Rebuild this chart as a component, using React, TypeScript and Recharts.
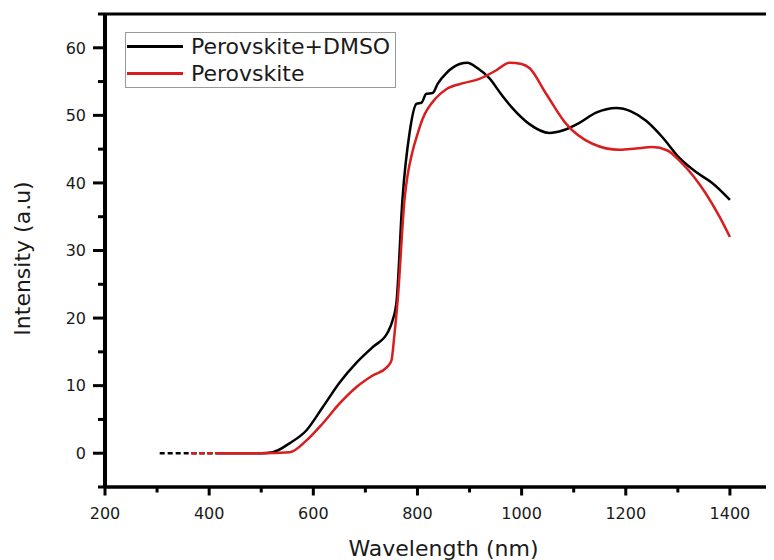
import React from 'react';
import { LineChart, Line, XAxis, YAxis, Legend, ReferenceLine } from 'recharts';

// Perovskite+DMSO (black)
const dmsoWavelength = [415, 450, 500, 522, 555, 587, 618, 651, 683, 714, 743, 752, 760, 771, 785, 798, 808, 817, 829, 839, 856, 881, 896, 915, 938, 960, 982, 1015, 1053, 1080, 1111, 1143, 1182, 1210, 1239, 1270, 1303, 1335, 1366, 1400];
const dmsoIntensity = [0, 0, 0, 0.15, 1.5, 3.4, 6.8, 10.5, 13.4, 15.7, 17.9, 19.6, 22.6, 37.4, 47.5, 51.7, 51.9, 53.2, 53.3, 54.7, 56.3, 57.6, 57.8, 57.0, 55.5, 53.2, 51.1, 48.7, 47.4, 47.8, 48.9, 50.4, 51.1, 50.6, 49.2, 46.8, 43.7, 41.6, 40.0, 37.5];

// Perovskite (red)
const pvkWavelength = [415, 450, 500, 555, 587, 618, 651, 683, 714, 741, 750, 756, 762, 775, 791, 798, 810, 836, 856, 890, 919, 950, 977, 1000, 1015, 1047, 1086, 1136, 1188, 1220, 1251, 1280, 1303, 1330, 1354, 1380, 1400];
const pvkIntensity = [0, 0, 0, 0.15, 1.9, 4.4, 7.4, 9.8, 11.5, 12.7, 13.7, 17.7, 22.6, 37.4, 44.8, 46.7, 49.5, 52.6, 53.9, 54.8, 55.4, 56.6, 57.8, 57.6, 57.0, 53.2, 48.7, 45.8, 44.9, 45.1, 45.3, 44.8, 43.3, 41.0, 38.4, 35.0, 32.0];

// sparse dashed start of each trace
const dmsoTailWavelength = [305, 415];
const pvkTailWavelength = [365, 415];

const xMajorTicks = [200, 400, 600, 800, 1000, 1200, 1400];
const xMinorTicks = [300, 500, 700, 900, 1100, 1300, 1500];
const yMajorTicks = [0, 10, 20, 30, 40, 50, 60];
const yMinorTicks = [-5, 5, 15, 25, 35, 45, 55, 65];

const zip = (xs: number[], ys: number[]) => xs.map((x, i) => ({ x, y: ys[i] }));
const dmsoData = zip(dmsoWavelength, dmsoIntensity);
const pvkData = zip(pvkWavelength, pvkIntensity);
const dmsoTail = dmsoTailWavelength.map((x) => ({ x, y: 0 }));
const pvkTail = pvkTailWavelength.map((x) => ({ x, y: 0 }));

const RED = '#d81e1e';
const FONT = '"DejaVu Sans", sans-serif';
const TEXT = '#1a1a1a';

const legendItems = [
  { name: 'Perovskite+DMSO', color: '#000' },
  { name: 'Perovskite', color: RED },
];

function LegendBox() {
  return (
    <div
      style={{
        border: '1px solid #999',
        background: '#fff',
        padding: '0 5px 0 1px',
        fontFamily: FONT,
        fontSize: 22,
        lineHeight: '27px',
        color: TEXT,
      }}
    >
      {legendItems.map((it) => (
        <div key={it.name} style={{ display: 'flex', alignItems: 'center' }}>
          <span style={{ display: 'inline-block', width: 56, height: 2.5, background: it.color, marginRight: 8 }} />
          {it.name}
        </div>
      ))}
    </div>
  );
}

// bottom ticks: long + label for majors, short for minors
function XTick(props: any) {
  const { x, y, payload } = props;
  const major = xMajorTicks.includes(payload.value);
  return (
    <g>
      <line x1={x} x2={x} y1={y} y2={y + (major ? 8.5 : 5.5)} stroke="#000" strokeWidth={3} />
      {major && (
        <text x={x} y={y + 32} textAnchor="middle" fill={TEXT} fontSize={16} fontFamily={FONT}>
          {payload.value}
        </text>
      )}
    </g>
  );
}

function YTick(props: any) {
  const { x, y, payload } = props;
  const major = yMajorTicks.includes(payload.value);
  return (
    <g>
      <line x1={x} x2={x - (major ? 12 : 7)} y1={y} y2={y} stroke="#000" strokeWidth={3} />
      {major && (
        <text x={x - 19} y={y} dy="0.36em" textAnchor="end" fill={TEXT} fontSize={16} fontFamily={FONT}>
          {payload.value}
        </text>
      )}
    </g>
  );
}

export default function App() {
  return (
    <div style={{ width: 766, height: 552, overflow: 'hidden' }}>
      <LineChart width={800} height={552} margin={{ top: 6, right: 26, bottom: 23, left: 37 }}>
        <XAxis
          dataKey="x"
          type="number"
          domain={[200, 1500]}
          ticks={[...xMajorTicks, ...xMinorTicks]}
          interval={0}
          allowDataOverflow
          tickSize={0}
          tickMargin={0}
          tickLine={false}
          axisLine={{ stroke: '#000', strokeWidth: 3.5 }}
          tick={<XTick />}
          height={50}
          label={{
            content: (p: any) => (
              <text x={p.viewBox.x + p.viewBox.width / 2} y={p.viewBox.y + 69} textAnchor="middle" fill={TEXT} fontSize={22} fontFamily={FONT}>
                Wavelength (nm)
              </text>
            ),
          }}
        />
        <YAxis
          type="number"
          domain={[-5, 65]}
          ticks={[...yMajorTicks, ...yMinorTicks]}
          interval={0}
          allowDataOverflow
          tickSize={0}
          tickMargin={0}
          tickLine={false}
          axisLine={{ stroke: '#000', strokeWidth: 4 }}
          tick={<YTick />}
          width={60}
          label={{
            content: (p: any) => {
              const cy = p.viewBox.y + p.viewBox.height / 2 + 8;
              return (
                <text x={14} y={cy} dy="0.35em" transform={`rotate(-90, 14, ${cy})`} textAnchor="middle" fill={TEXT} fontSize={22} fontFamily={FONT}>
                  Intensity (a.u)
                </text>
              );
            },
          }}
        />
        <ReferenceLine y={65} stroke="#000" strokeWidth={3} ifOverflow="extendDomain" />
        <Line data={dmsoTail} dataKey="y" stroke="#000" strokeWidth={2.5} strokeDasharray="5 3" dot={false} isAnimationActive={false} legendType="none" />
        <Line data={pvkTail} dataKey="y" stroke={RED} strokeWidth={2.5} strokeDasharray="5 3" dot={false} isAnimationActive={false} legendType="none" />
        <Line data={dmsoData} dataKey="y" name="Perovskite+DMSO" type="monotone" stroke="#000" strokeWidth={2.5} dot={false} isAnimationActive={false} />
        <Line data={pvkData} dataKey="y" name="Perovskite" type="monotone" stroke={RED} strokeWidth={2.5} dot={false} isAnimationActive={false} />
        <Legend
          layout="horizontal"
          verticalAlign="middle"
          align="center"
          content={<LegendBox />}
          wrapperStyle={{ left: 117, top: 24, width: 'auto' }}
        />
      </LineChart>
    </div>
  );
}
